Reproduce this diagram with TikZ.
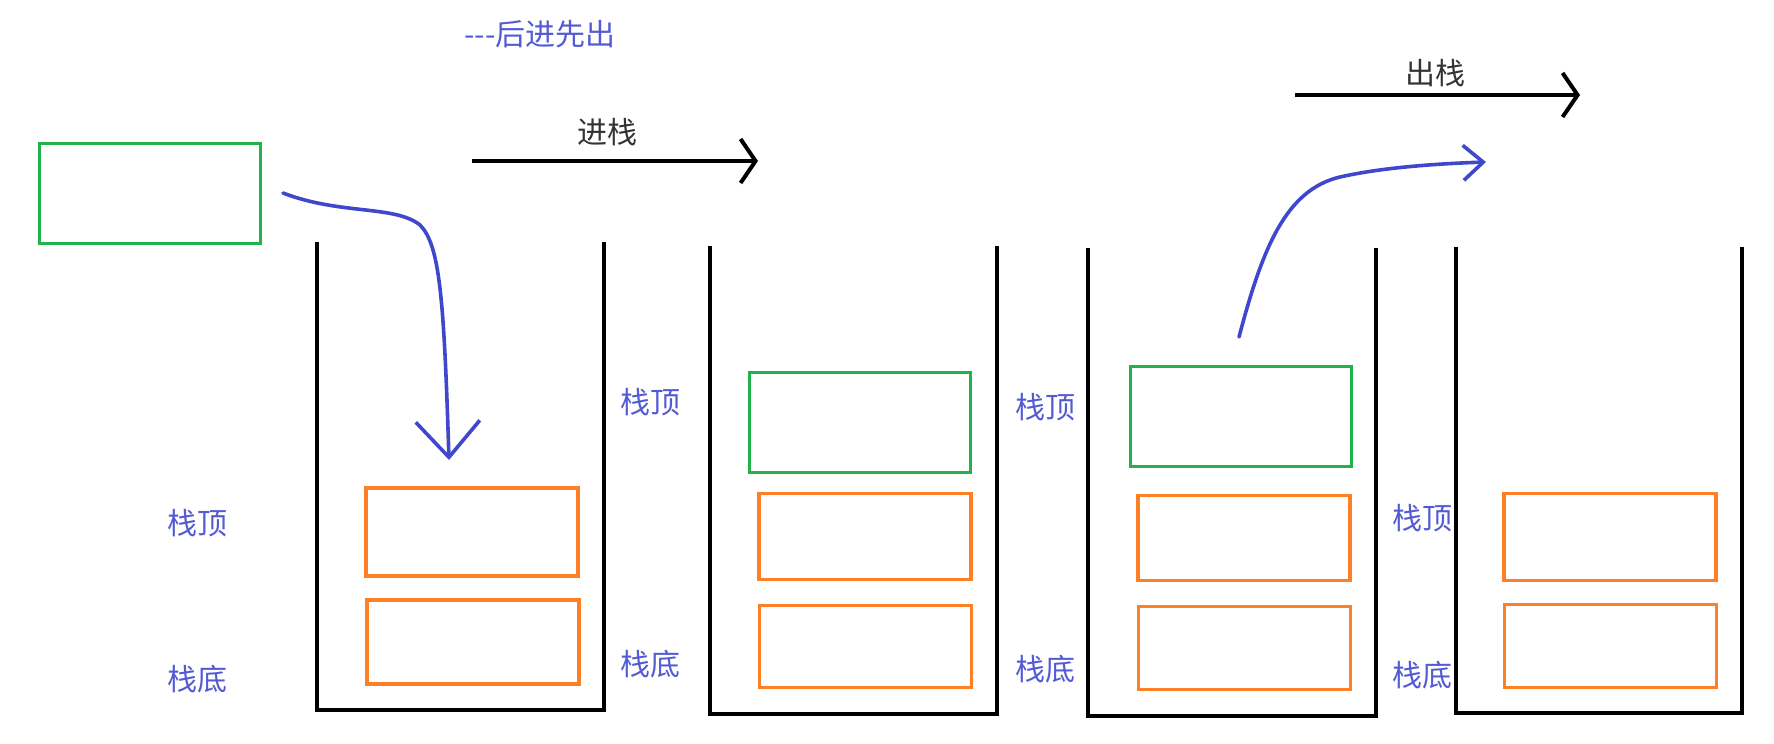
\documentclass[tikz,border=0pt]{standalone}
\usepackage{fontspec}
\setmainfont{Noto Sans CJK SC}
\newfontfamily\plaincjk{Noto Sans CJK SC}
\usetikzlibrary{arrows.meta}
\definecolor{pblue}{RGB}{63,72,204}
\definecolor{tblue}{RGB}{82,90,212}
\definecolor{pgreen}{RGB}{34,177,76}
\definecolor{porange}{RGB}{255,127,39}
\begin{document}
\begin{tikzpicture}[x=0.5pt,y=-0.5pt,
  wall/.style={line width=2pt, line join=miter},
  gbox/.style={draw=pgreen, line width=1.9pt, inner sep=0pt, minimum width=110.5pt, minimum height=50pt},
  obox/.style={draw=porange, line width=1.7pt, inner sep=0pt, minimum width=106pt},
  lbl/.style={text=tblue, font=\fontsize{15pt}{18pt}\selectfont, inner sep=0pt},
  ttl/.style={text=black!80, font=\fontsize{15pt}{18pt}\selectfont, inner sep=0pt},
  blk/.style={line width=2pt, -{Straight Barb[length=7.5pt,width=22pt]}},
  bcurve/.style={draw=pblue, line width=1.8pt, line cap=round}]
\useasboundingbox (0,0) rectangle (1774,744);

% title
\node[lbl, font=\plaincjk\fontsize{15pt}{18pt}\selectfont] (title) at (540,34) {---后进先出};

% stacks
\draw[wall] (317,242) -- (317,710) -- (604,710) -- (604,242);
\draw[wall] (710,246) -- (710,714) -- (997,714) -- (997,246);
\draw[wall] (1088,248) -- (1088,716) -- (1376,716) -- (1376,248);
\draw[wall] (1456,247) -- (1456,713) -- (1742,713) -- (1742,247);

% boxes
\node[gbox] (g0) at (150,193.5) {};
\node[obox, minimum height=44pt] (s1a) at (472,532) {};
\node[obox, minimum height=42pt] (s1b) at (473,642) {};
\node[gbox] (g2) at (860,422.5) {};
\node[obox, minimum height=43pt] (s2a) at (865,536.5) {};
\node[obox, minimum height=41pt] (s2b) at (865.5,646.5) {};
\node[gbox] (g3) at (1241,416.5) {};
\node[obox, minimum height=42.5pt] (s3a) at (1244,538) {};
\node[obox, minimum height=41.5pt] (s3b) at (1244.5,648) {};
\node[obox, minimum height=43.5pt] (s4a) at (1610,537) {};
\node[obox, minimum height=41.5pt] (s4b) at (1610.5,646) {};

% labels
\node[lbl] (t1) at (197,523) {栈顶};
\node[lbl] (b1) at (197,679) {栈底};
\node[lbl] (t2) at (650,402) {栈顶};
\node[lbl] (b2) at (650,664) {栈底};
\node[lbl] (t3) at (1045,407) {栈顶};
\node[lbl] (b3) at (1045,669) {栈底};
\node[lbl] (t4) at (1422,518) {栈顶};
\node[lbl] (b4) at (1422,675) {栈底};

% black arrows
\coordinate (ps) at (472,161);
\coordinate (pe) at (758,161);
\draw[blk] (ps) -- (pe);
\node[ttl] (push) at (607,132) {进栈};
\coordinate (os) at (1295,95);
\coordinate (oe) at (1580,95);
\draw[blk] (os) -- (oe);
\node[ttl] (pop) at (1435,73) {出栈};

% blue curves
\coordinate (c1s) at (283,193);
\coordinate (c1m) at (420,225);
\coordinate (c1e) at (449,460);
\draw[bcurve, -{Straight Barb[length=18pt,width=32pt]}]
  (c1s) .. controls (340,215) and (395,205) .. (c1m)
        .. controls (440,245) and (444,300) .. (c1e);
\coordinate (c2s) at (1239,337);
\coordinate (c2m) at (1340,177);
\coordinate (c2e) at (1486,162);
\draw[bcurve, -{Straight Barb[length=10pt,width=17.5pt]}]
  (c2s) .. controls (1262,250) and (1285,190) .. (c2m)
        .. controls (1380,168) and (1430,164) .. (c2e);
\end{tikzpicture}
\end{document}
